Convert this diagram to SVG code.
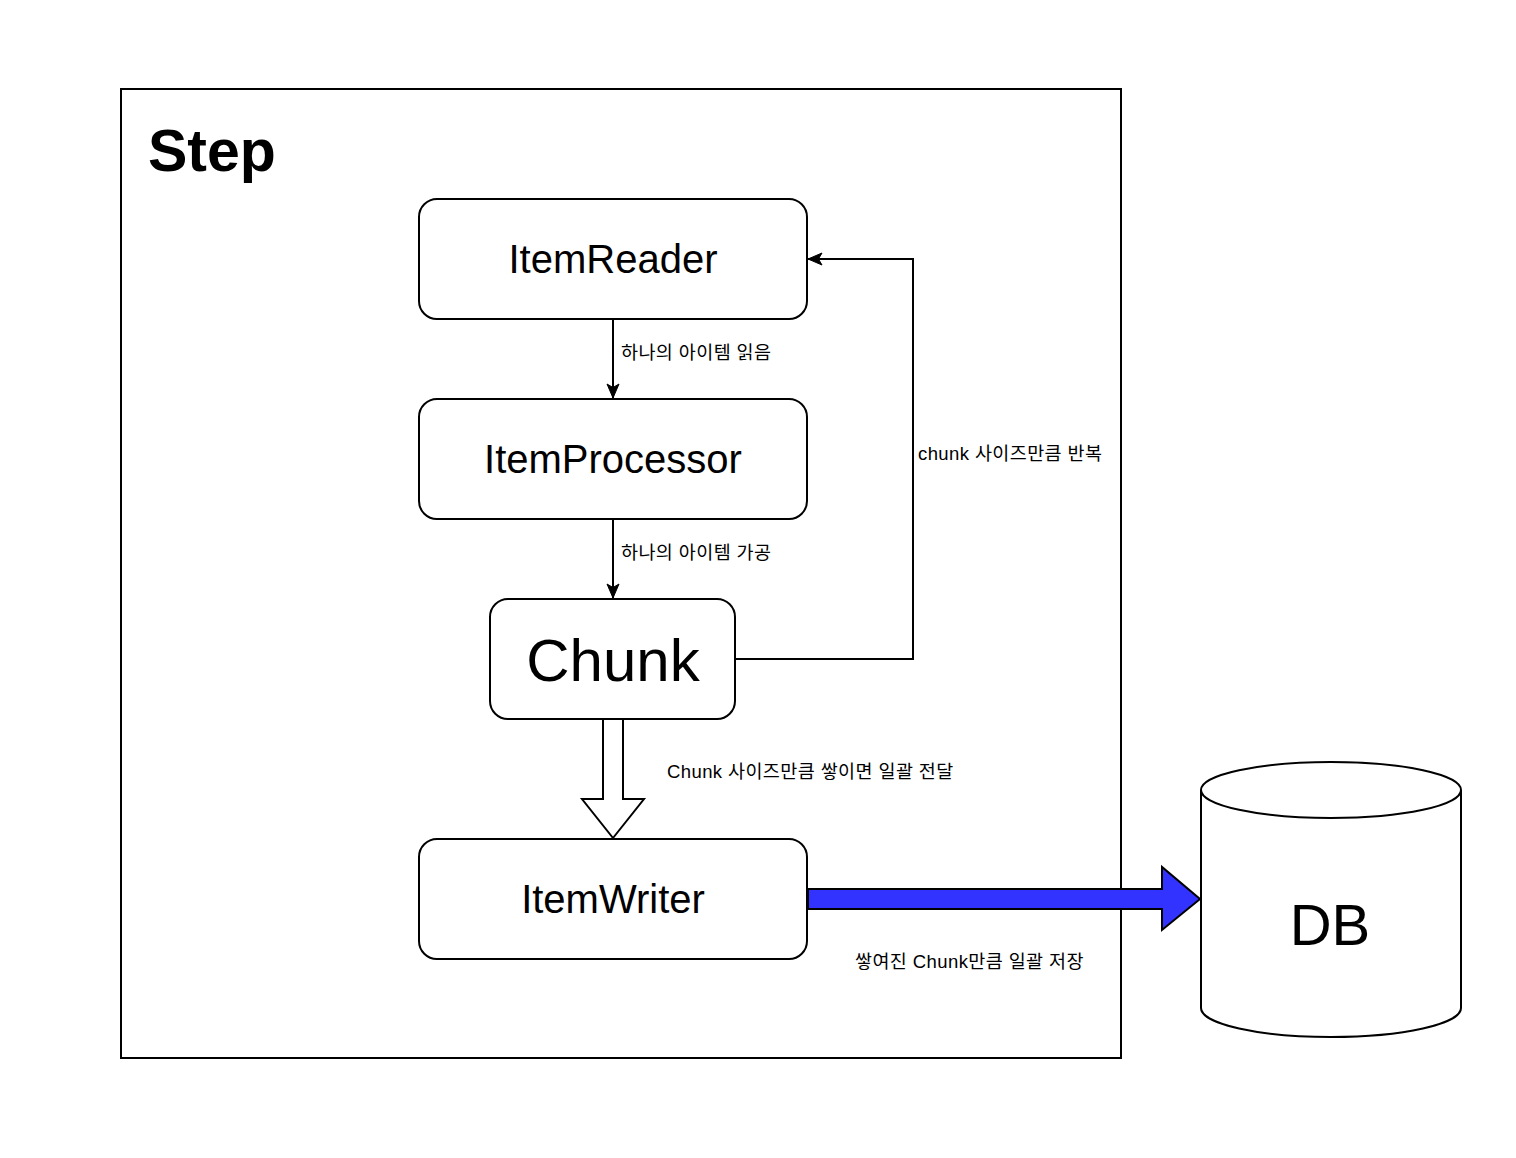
<svg xmlns="http://www.w3.org/2000/svg" width="1516" height="1158" viewBox="0 0 1516 1158">
<defs>
<style>
text{font-family:"Liberation Sans","Noto Sans CJK KR",sans-serif;fill:#000}
.box{fill:#fff;stroke:#000;stroke-width:2}
.node{font-size:40px;text-anchor:middle}
.lbl{font-size:18.5px;letter-spacing:0.4px}
.line{fill:none;stroke:#000;stroke-width:2}
</style>
<marker id="arr" viewBox="0 0 16 14" refX="15" refY="7" markerWidth="16" markerHeight="14" markerUnits="userSpaceOnUse" orient="auto">
<path d="M1,1 L15,7 L1,13 L4.5,7 Z" fill="#000" stroke="#000" stroke-width="1"/>
</marker>
</defs>
<rect width="1516" height="1158" fill="#fff"/>
<g id="step">
<rect x="121" y="89" width="1000" height="969" fill="#fff" stroke="#000" stroke-width="2"/>
<text x="148" y="171" font-size="59" font-weight="bold">Step</text>
</g>
<g id="itemreader">
<rect class="box" x="419" y="199" width="388" height="120" rx="18"/>
<text class="node" x="613" y="273">ItemReader</text>
</g>
<g id="itemprocessor">
<rect class="box" x="419" y="399" width="388" height="120" rx="18"/>
<text class="node" x="613" y="473">ItemProcessor</text>
</g>
<g id="chunk">
<rect class="box" x="490" y="599" width="245" height="120" rx="18"/>
<text x="613" y="681" font-size="60" text-anchor="middle">Chunk</text>
</g>
<g id="itemwriter">
<rect class="box" x="419" y="839" width="388" height="120" rx="18"/>
<text class="node" x="613" y="913">ItemWriter</text>
</g>
<g id="db">
<path d="M1201,790 L1201,1008 A130,29 0 0 0 1461,1008 L1461,790" fill="#fff" stroke="#000" stroke-width="2"/>
<ellipse cx="1331" cy="790" rx="130" ry="28" fill="#fff" stroke="#000" stroke-width="2"/>
<text x="1330" y="945" font-size="58" text-anchor="middle">DB</text>
</g>
<g id="connectors">
<line class="line" x1="613" y1="319" x2="613" y2="398" marker-end="url(#arr)"/>
<text class="lbl" x="621" y="359">하나의 아이템 읽음</text>
<line class="line" x1="613" y1="519" x2="613" y2="598" marker-end="url(#arr)"/>
<text class="lbl" x="621" y="559">하나의 아이템 가공</text>
<polyline class="line" points="735,659 913,659 913,259 808,259" marker-end="url(#arr)"/>
<text class="lbl" x="918" y="460">chunk 사이즈만큼 반복</text>
<path d="M603,719 L623,719 L623,799 L644,799 L613,838 L582,799 L603,799 Z" fill="#fff" stroke="#000" stroke-width="2" stroke-linejoin="miter"/>
<text class="lbl" x="667" y="778">Chunk 사이즈만큼 쌓이면 일괄 전달</text>
<path d="M808,889 L1162,889 L1162,867 L1200,899 L1162,930 L1162,909 L808,909 Z" fill="#3333FF" stroke="#000" stroke-width="2"/>
<text class="lbl" x="855" y="968">쌓여진 Chunk만큼 일괄 저장</text>
</g>
</svg>
